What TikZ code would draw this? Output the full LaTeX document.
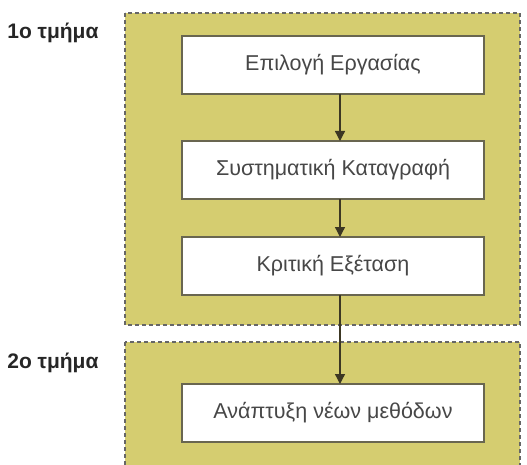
\documentclass[tikz,border=0pt]{standalone}
\usepackage{fontspec}
\setmainfont{Liberation Sans}
\usetikzlibrary{arrows.meta}
\definecolor{panelfill}{RGB}{213,205,112}
\definecolor{boxline}{RGB}{105,102,80}
\definecolor{arrowcol}{RGB}{60,55,35}

\begin{document}
\begin{tikzpicture}[x=1pt,y=-1pt,
    every node/.style={outer sep=0pt},
    panel/.style={fill=panelfill, draw=gray!80!black, line width=1.2pt, dash pattern=on 4pt off 3pt},
    stepbox/.style={draw=boxline, fill=white, line width=1.6pt, minimum width=302pt, minimum height=58pt,
      text=black!72, font=\fontsize{21.5}{25}\selectfont},
    partlabel/.style={anchor=west, font=\bfseries\fontsize{21}{25}\selectfont, text=black!85},
    flow/.style={draw=arrowcol, line width=1.3pt, -{Triangle[width=10pt,length=10pt]}}]
      \useasboundingbox (0,0) rectangle (527,465);
      \clip (0,0) rectangle (527,465);
      \fill[white] (0,0) rectangle (527,465);
      \draw[panel] (125,13) rectangle (520,325);
      \draw[panel] (125,342) rectangle (520,480);
      \node[partlabel] (part1) at (4,33) {1ο τμήμα};
      \node[partlabel] (part2) at (4,363) {2ο τμήμα};
      \node[stepbox] (select) at (333,65) {Επιλογή Εργασίας};
      \node[stepbox] (record) at (333,170) {Συστηματική Καταγραφή};
      \node[stepbox] (review) at (333,266) {Κριτική Εξέταση};
      \node[stepbox] (develop) at (333,413) {Ανάπτυξη νέων μεθόδων};
      \draw[flow] ([xshift=7pt]select.south) -- ([xshift=7pt]record.north);
      \draw[flow] ([xshift=7pt]record.south) -- ([xshift=7pt]review.north);
      \draw[flow] ([xshift=7pt]review.south) -- ([xshift=7pt]develop.north);
    \end{tikzpicture}
\end{document}
